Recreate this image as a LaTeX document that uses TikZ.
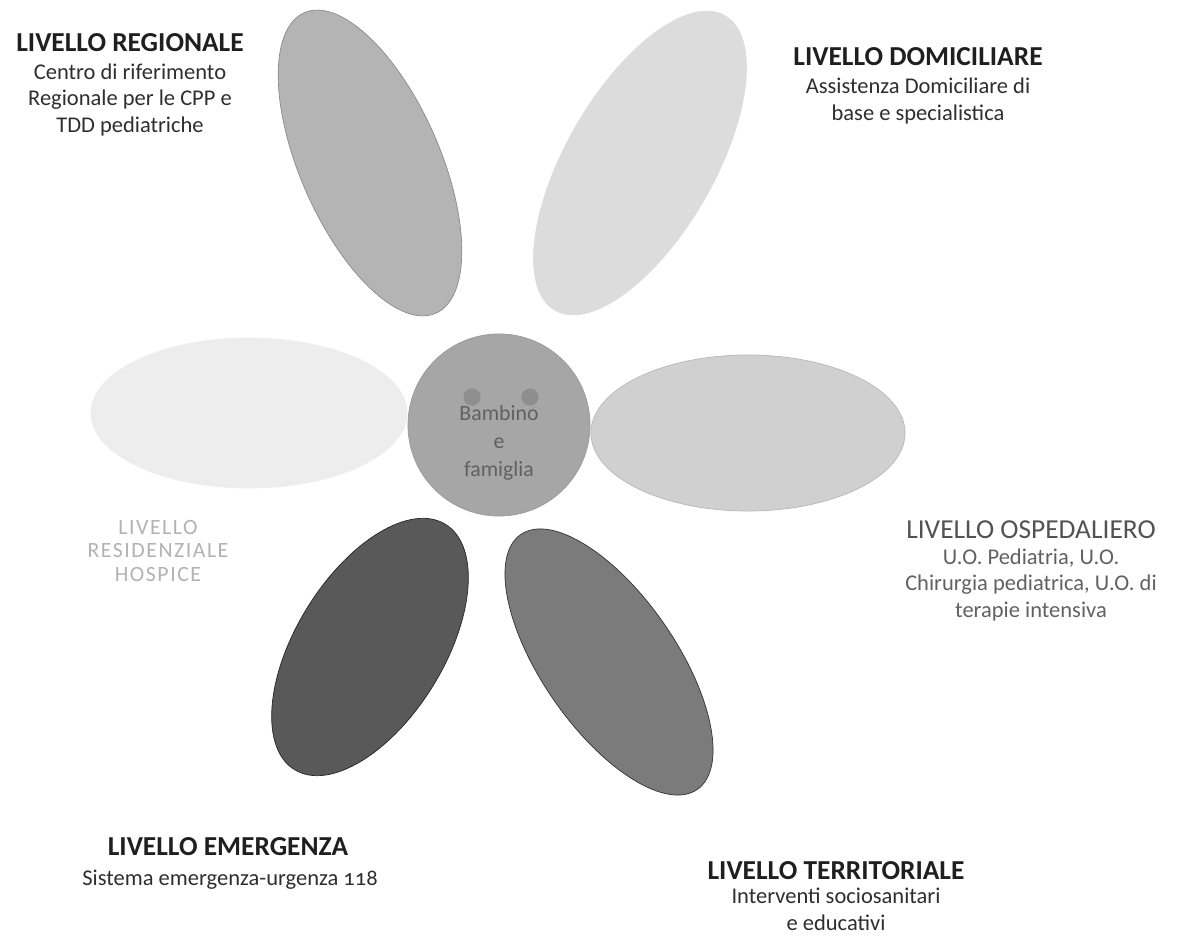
\documentclass[tikz,border=0pt]{standalone}
\usepackage{fontspec}
\setmainfont{Carlito}
\newfontfamily\spacedfont[LetterSpace=7]{Carlito}
\usetikzlibrary{shapes.geometric}

\definecolor{regionaleC}{HTML}{B4B4B4}
\definecolor{domiciliareC}{HTML}{DCDCDC}
\definecolor{residenzialeC}{HTML}{EDEDED}
\definecolor{ospedalieroC}{HTML}{D0D0D0}
\definecolor{emergenzaC}{HTML}{595959}
\definecolor{territorialeC}{HTML}{7B7B7B}
\definecolor{centroC}{HTML}{A6A6A6}
\definecolor{occhioC}{HTML}{8E8E8E}

\begin{document}
\begin{tikzpicture}[
  x=0.025cm, y=0.025cm,
  petal/.style={ellipse, inner sep=0pt, line width=0.5pt},
  levelhead/.style={font=\fontsize{19.5}{22}\selectfont\bfseries, text=black!88},
  leveltext/.style={font=\fontsize{16}{19}\selectfont, align=center, text=black!82},
  eyedot/.style={circle, fill=occhioC, inner sep=0pt, minimum size=0.43cm}
]
\useasboundingbox (0,0) rectangle (1177,-937);

\node[petal, fill=regionaleC, draw=black!45, minimum width=8.2cm, minimum height=3.5cm, rotate=113.6] (pRegionale) at (370,-163) {};
\node[petal, fill=domiciliareC, draw=domiciliareC, minimum width=8.5cm, minimum height=3.7cm, rotate=60] (pDomiciliare) at (640,-163) {};
\node[petal, fill=residenzialeC, draw=residenzialeC, minimum width=7.9cm, minimum height=3.75cm] (pResidenziale) at (249,-413) {};
\node[petal, fill=ospedalieroC, draw=black!28, minimum width=7.85cm, minimum height=3.9cm] (pOspedaliero) at (748,-433) {};
\node[petal, fill=emergenzaC, draw=black!85, minimum width=7.2cm, minimum height=3.7cm, rotate=58.4] (pEmergenza) at (370,-647) {};
\node[petal, fill=territorialeC, draw=black!80, minimum width=7.75cm, minimum height=3.35cm, rotate=124.7] (pTerritoriale) at (609,-662) {};

\node[circle, fill=centroC, draw=black!40, line width=0.5pt, minimum size=4.55cm, inner sep=0pt] (centro) at (499,-425) {};
\node[eyedot] (occhioL) at (472,-397) {};
\node[eyedot] (occhioR) at (530,-397) {};
\node[font=\fontsize{15.5}{20}\selectfont, align=center, text=black!62] (bambino) at (499,-443) {Bambino\\e\\famiglia};

\node[levelhead] (tRegionale) at (130,-43) {LIVELLO REGIONALE};
\node[leveltext] (dRegionale) at (130,-100) {Centro di riferimento\\Regionale per le CPP e\\TDD pediatriche};

\node[levelhead] (tDomiciliare) at (918,-57) {LIVELLO DOMICILIARE};
\node[leveltext] (dDomiciliare) at (918,-101) {Assistenza Domiciliare di\\base e specialistica};

\node[font=\fontsize{15.5}{17}\selectfont\spacedfont, align=center, text=black!30] (tResidenziale) at (158,-551) {LIVELLO\\RESIDENZIALE\\HOSPICE};

\node[levelhead, font=\fontsize{19.5}{22}\selectfont\mdseries, text=black!68] (tOspedaliero) at (1031,-530) {LIVELLO OSPEDALIERO};
\node[leveltext, text=black!62] (dOspedaliero) at (1031,-585) {U.O. Pediatria, U.O.\\Chirurgia pediatrica, U.O. di\\terapie intensiva};

\node[levelhead] (tEmergenza) at (228,-847) {LIVELLO EMERGENZA};
\node[leveltext] (dEmergenza) at (230,-880) {Sistema emergenza-urgenza {\addfontfeatures{Numbers=OldStyle}118}};

\node[levelhead] (tTerritoriale) at (836,-871) {LIVELLO TERRITORIALE};
\node[leveltext] (dTerritoriale) at (836,-909) {Interventi sociosanitari\\e educativi};

\end{tikzpicture}
\end{document}
